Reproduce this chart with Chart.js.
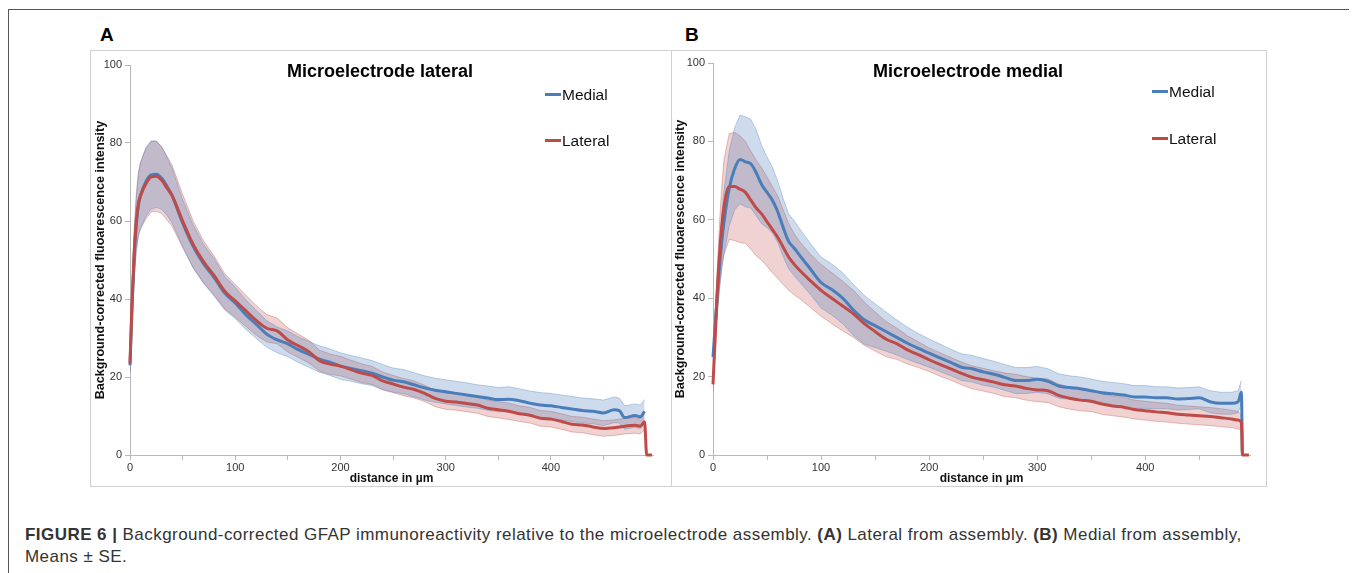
<!DOCTYPE html>
<html>
<head>
<meta charset="utf-8">
<script src="https://cdn.jsdelivr.net/npm/chart.js@4.4.1/dist/chart.umd.min.js"></script>
<style>
body { margin: 0; background: #fff; font-family: "Liberation Sans", Arial, sans-serif; }
#page { position: relative; width: 1355px; height: 573px; overflow: hidden; }
.frame { position: absolute; left: 8px; top: 9px; width: 1340px; height: 570px; border-top: 1px solid #555; border-left: 1px solid #555; }
.box { position: absolute; top: 50px; height: 437px; border: 1px solid #d0d0d0; box-sizing: border-box; }
.letter { position: absolute; top: 25px; font-weight: bold; font-size: 19px; line-height: 20px; color: #000; }
.title { position: absolute; top: 61px; width: 320px; text-align: center; font-weight: bold; font-size: 18px; line-height: 20px; color: #000; }
.leg { position: absolute; font-size: 15.5px; line-height: 18px; color: #111; white-space: nowrap; }
.leg span { display: inline-block; width: 16px; height: 3px; vertical-align: middle; margin-right: 1px; position: relative; top: -1px; }
canvas { position: absolute; top: 50px; }
.caption { position: absolute; left: 25px; top: 524px; font-size: 17px; letter-spacing: 0.45px; line-height: 22px; color: #333; white-space: nowrap; }
</style>
</head>
<body>
<div id="page">
  <div class="frame"></div>

  <div class="letter" style="left:100px">A</div>
  <div class="letter" style="left:685px">B</div>

  <div class="box" style="left:90px; width:582px"></div>
  <div class="box" style="left:671px; width:596px"></div>

  <canvas id="chartA" width="581" height="437" style="left:90px"></canvas>
  <canvas id="chartB" width="595" height="437" style="left:671px"></canvas>

  <div class="title" style="left:220px">Microelectrode lateral</div>
  <div class="title" style="left:808px">Microelectrode medial</div>

  <div class="leg" style="left:545px; top:86px"><span style="background:#4a7ebb"></span>Medial</div>
  <div class="leg" style="left:545px; top:132px"><span style="background:#be4b48"></span>Lateral</div>
  <div class="leg" style="left:1152px; top:83px"><span style="background:#4a7ebb"></span>Medial</div>
  <div class="leg" style="left:1152px; top:130px"><span style="background:#be4b48"></span>Lateral</div>

  <div class="caption"><b>FIGURE 6 |</b> Background-corrected GFAP immunoreactivity relative to the microelectrode assembly. <b>(A)</b> Lateral from assembly. <b>(B)</b> Medial from assembly,<br>Means ± SE.</div>
</div>

<script>
// panel A - microelectrode lateral
var distA = [
  0, 2, 4, 6, 8, 10, 15, 20, 25, 30,
  35, 40, 50, 60, 70, 80, 90, 100, 110, 120,
  130, 140, 150, 160, 170, 180, 190, 200, 210, 220,
  230, 240, 250, 260, 270, 280, 290, 300, 310, 320,
  330, 340, 350, 360, 370, 380, 390, 400, 410, 420,
  430, 440, 450, 460, 465, 470, 480, 485, 489, 491,
  496
];
var medialA = [
  23, 38, 51, 59, 64, 66.5, 70, 71.8, 72, 71,
  69, 66.5, 59.5, 53.5, 49, 45.5, 41.5, 39, 36, 33.5,
  31, 29.5, 28.5, 27, 25.8, 24.6, 23.8, 22.8, 22.2, 21.6,
  21, 20, 19.2, 18.8, 18, 17.2, 16.6, 16.2, 15.8, 15.4,
  15, 14.6, 14.2, 14.3, 13.9, 13.3, 12.8, 12.6, 12.2, 11.8,
  11.4, 11.2, 10.8, 11.6, 11.4, 9.6, 10.1, 9.8, 11.2, null,
  null
];
var medialSeA = [
  2, 4, 6, 7, 8, 8.5, 8.8, 8.8, 8.5, 8,
  7.5, 7, 6, 5.5, 5, 4.8, 4.3, 4, 3.8, 3.6,
  3.4, 3.3, 3.3, 3.3, 3.3, 3.4, 3.4, 3.4, 3.3, 3.3,
  3.2, 3.2, 3.1, 3.1, 3.1, 3.1, 3.1, 3.1, 3.1, 3.1,
  3.0, 3.1, 3.1, 3.2, 3.1, 3.1, 3.2, 3.2, 3.2, 3.2,
  3.2, 3.2, 3.3, 3.3, 3.2, 3.0, 3.0, 3.0, 3.0, null,
  null
];
var lateralA = [
  23.5, 40, 52, 60, 64.5, 66.5, 69.5, 71.3, 71.5, 70.5,
  68.5, 66.5, 60, 54, 49.5, 46, 42, 39.5, 37, 34.5,
  32.5, 31.8, 29.5, 28, 26.5, 24.2, 23.3, 22.8, 21.9, 21,
  20.4, 19, 18.2, 17.4, 16.8, 15.8, 14.5, 13.8, 13.6, 13.2,
  12.8, 12, 11.6, 11.2, 10.6, 10.2, 9.4, 9.2, 8.6, 7.9,
  7.7, 7.2, 6.8, 7, 7.2, 7.4, 7.6, 7.4, 8.5, 0,
  0
];
var lateralSeA = [
  2, 4, 6, 7, 8, 8.5, 9, 9, 9, 8.6,
  8.2, 7.8, 6.8, 6, 5.4, 5, 4.5, 4.2, 4, 3.8,
  3.5, 3.3, 3.1, 3, 2.9, 2.7, 2.6, 2.5, 2.4, 2.4,
  2.3, 2.3, 2.2, 2.2, 2.2, 2.1, 2.1, 2.1, 2.1, 2.1,
  2.1, 2.1, 2.1, 2.1, 2, 2, 2, 2, 2, 2,
  2, 2, 2, 2, 2, 2, 2, 2, 2, null,
  null
];

// panel B - microelectrode medial
var distB = [
  0, 2, 4, 6, 8, 10, 15, 20, 25, 30,
  35, 40, 45, 50, 55, 60, 65, 70, 75, 80,
  90, 100, 110, 120, 130, 140, 150, 160, 170, 180,
  190, 200, 210, 220, 230, 240, 250, 260, 270, 280,
  290, 300, 310, 320, 330, 340, 350, 360, 370, 380,
  390, 400, 410, 420, 430, 440, 450, 460, 470, 480,
  486, 489, 490, 496
];
var medialB = [
  25, 33, 41, 48, 54, 59, 68, 73, 75.4, 74.8,
  74.3, 72, 69, 67, 65, 62, 58, 54.5, 52.8, 51,
  47.5, 44, 42.2, 40, 37, 34.5, 33, 31.5, 30, 28.5,
  27.2, 26, 24.8, 23.6, 22.4, 22, 21.2, 20.6, 19.8, 19,
  19, 19.3, 18.8, 17.6, 17.2, 16.9, 16.4, 15.9, 15.6, 15.3,
  14.8, 14.8, 14.6, 14.6, 14.3, 14.4, 14.6, 13.6, 13.2, 13.2,
  13.6, 16, 0, null
];
var medialSeB = [
  3, 4, 5, 6, 7, 8, 9.5, 10.5, 11.3, 11.5,
  11.3, 11, 10, 9, 8.4, 7.8, 7.4, 7, 7, 6.8,
  6.5, 6.5, 6.5, 6.5, 6.5, 6.2, 5.6, 5, 4.5, 4.1,
  3.8, 3.6, 3.5, 3.4, 3.4, 3.4, 3.4, 3.3, 3.3, 3.3,
  3.3, 3.3, 3.2, 3.1, 3.0, 3.0, 3.0, 2.9, 2.9, 2.9,
  2.9, 2.9, 2.8, 2.8, 2.8, 2.8, 2.8, 2.8, 2.8, 2.8,
  2.8, 3, null, null
];
var lateralB = [
  18, 30, 42, 51, 58, 63, 68.5, 68.5, 67.8, 67,
  65, 63, 61.5, 59.5, 57.5, 55.5, 53, 50.5, 48.7, 47.2,
  44.5, 42, 40, 38, 36, 33.5, 31.5, 29.6, 28.4, 26.8,
  25.6, 24.3, 23.1, 22, 20.8, 19.8, 19.2, 18.6, 17.9, 17.6,
  17, 16.6, 16.4, 15.2, 14.5, 14, 13.7, 13, 12.5, 12.2,
  11.6, 11.3, 11, 10.8, 10.4, 10.2, 10, 9.8, 9.5, 9.2,
  8.9, 8.3, 0, 0
];
var lateralSeB = [
  2, 4, 6, 8, 10, 12, 13.5, 13.8, 13.6, 13,
  12.5, 12.2, 11.8, 11.4, 11, 10.5, 9.5, 8.5, 7.8, 7.3,
  6.8, 6.6, 6.5, 6.3, 6, 5.5, 5, 4.5, 4, 3.6,
  3.3, 3, 3, 2.9, 2.9, 2.9, 2.9, 2.9, 3, 3,
  3, 3, 3, 2.9, 2.8, 2.7, 2.6, 2.6, 2.5, 2.5,
  2.4, 2.4, 2.4, 2.4, 2.3, 2.3, 2.3, 2.3, 2.3, 2.2,
  2.2, 2, null, null
];

var xMax = 497;
var xStep = 50;
var xLabelEvery = 100;
var yMax = 100;
var yStep = 20;

var blue = '#4a7ebb';
var red = '#be4b48';

Chart.defaults.font.family = '"Liberation Sans", Arial, sans-serif';
Chart.defaults.color = '#333';

function pts(xs, ys) {
  return xs.map(function(x, i) { return { x: x, y: ys[i] }; });
}

function edge(xs, ys, se, sign) {
  return xs.map(function(x, i) {
    if (ys[i] == null || se[i] == null) return { x: x, y: null };
    return { x: x, y: ys[i] + sign * se[i] };
  });
}

function makeChart(id, xs, med, medSe, lat, latSe, pad, yWidth, yTitlePad) {
  var ctx = document.getElementById(id).getContext('2d');
  var lineOpts = { pointRadius: 0, borderWidth: 3, cubicInterpolationMode: 'monotone', fill: false, clip: 6 };
  return new Chart(ctx, {
    type: 'line',
    data: {
      datasets: [
        Object.assign({ label: 'Lateral', data: pts(xs, lat), borderColor: red }, lineOpts),
        Object.assign({ label: 'Medial', data: pts(xs, med), borderColor: blue }, lineOpts),
        { data: edge(xs, med, medSe, 1), borderColor: 'rgba(74,126,187,0.35)', borderWidth: 1, pointRadius: 0, fill: false },
        { data: edge(xs, med, medSe, -1), borderColor: 'rgba(74,126,187,0.35)', borderWidth: 1, pointRadius: 0,
          fill: '-1', backgroundColor: 'rgba(74,126,187,0.28)' },
        { data: edge(xs, lat, latSe, 1), borderColor: 'rgba(190,75,72,0.35)', borderWidth: 1, pointRadius: 0, fill: false },
        { data: edge(xs, lat, latSe, -1), borderColor: 'rgba(190,75,72,0.35)', borderWidth: 1, pointRadius: 0,
          fill: '-1', backgroundColor: 'rgba(190,75,72,0.25)' }
      ]
    },
    options: {
      responsive: false,
      animation: false,
      events: [],
      layout: { padding: pad },
      plugins: { legend: { display: false }, tooltip: { enabled: false } },
      scales: {
        x: {
          type: 'linear',
          min: 0,
          max: xMax,
          afterFit: function(s) { s.height = 32; },
          border: { display: true, color: '#b8b8b8' },
          grid: { drawOnChartArea: false, drawTicks: true, tickLength: 5, color: '#b8b8b8' },
          ticks: {
            stepSize: xStep,
            autoSkip: false,
            includeBounds: false,
            maxRotation: 0,
            padding: 1,
            font: { size: 11 },
            callback: function(v) { return v % xLabelEvery === 0 ? v : ''; }
          },
          title: { display: true, text: 'distance in µm', color: '#111',
                   font: { size: 12, weight: 'bold' }, padding: { top: 0, bottom: 1 } }
        },
        y: {
          min: 0,
          max: yMax,
          afterFit: function(s) { s.width = yWidth; },
          border: { display: true, color: '#b8b8b8' },
          grid: { drawOnChartArea: false, drawTicks: true, tickLength: 5, color: '#b8b8b8' },
          ticks: { stepSize: yStep, padding: 3, font: { size: 11 } },
          title: { display: true, text: 'Background-corrected fluoarescence intensity', color: '#111',
                   font: { size: 12.6, weight: 'bold' }, padding: { top: yTitlePad, bottom: 0 } }
        }
      }
    }
  });
}

makeChart('chartA', distA, medialA, medialSeA, lateralA, lateralSeA,
  { left: 0, right: 18, top: 15, bottom: 0 }, 40, 3);
makeChart('chartB', distB, medialB, medialSeB, lateralB, lateralSeB,
  { left: 0, right: 16, top: 13, bottom: 0 }, 42, 2);
</script>
</body>
</html>
